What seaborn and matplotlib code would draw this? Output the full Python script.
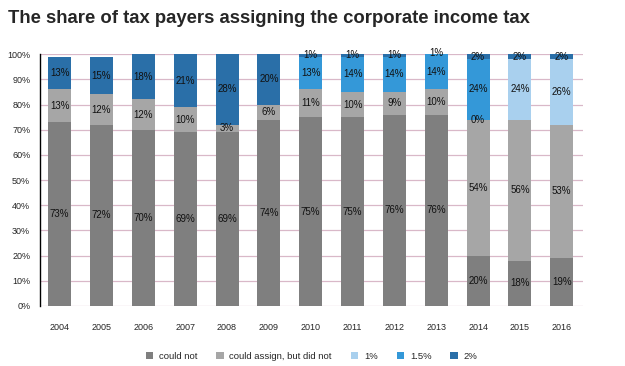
import numpy as np
import pandas as pd
import seaborn as sns
import matplotlib.pyplot as plt

sns.set_style('white')
plt.rcParams['font.family'] = ['Liberation Sans', 'DejaVu Sans']

years = ['2004', '2005', '2006', '2007', '2008', '2009', '2010',
         '2011', '2012', '2013', '2014', '2015', '2016']
could_not = [73, 72, 70, 69, 69, 74, 75, 75, 76, 76, 20, 18, 19]
could_assign = [13, 12, 12, 10, 3, 6, 11, 10, 9, 10, 54, 56, 53]
rate_1 = [None, None, None, None, None, None, None, None, None, None, 0, 24, 26]
rate_15 = [None, None, None, None, None, None, 13, 14, 14, 14, 24, None, None]
rate_2 = [13, 15, 18, 21, 28, 20, 1, 1, 1, 1, 2, 2, 2]

series = ['could not', 'could assign, but did not', '1%', '1.5%', '2%']
colors = ['#7f7f7f', '#a6a6a6', '#a9d0ee', '#3498d8', '#2a6fa8']

df = pd.DataFrame({'year': years, 'could not': could_not,
                   'could assign, but did not': could_assign,
                   '1%': rate_1, '1.5%': rate_15, '2%': rate_2})
vals = df[series].astype(float)
cum = vals.fillna(0).cumsum(axis=1)

fig = plt.figure(figsize=(6.25, 3.66), dpi=100)
ax = fig.add_axes([0.064, 0.164, 0.869, 0.688])

# draw cumulative bars from the top layer down so each covers the one before
for s, c in reversed(list(zip(series, colors))):
    sns.barplot(x=df['year'], y=cum[s], color=c, width=0.55, ax=ax,
                saturation=1, label=s, zorder=2, linewidth=0, edgecolor='none')

# segment labels
for i in range(len(years)):
    base = 0
    for s in series:
        v = vals[s].iloc[i]
        if np.isnan(v):
            continue
        ax.text(i, base + v / 2, f'{int(v)}%', ha='center', va='center',
                fontsize=7, color='#111111', zorder=3)
        base += v

ax.set_ylim(0, 100)
ax.set_xlim(-0.47, 12.51)
ax.set_yticks(range(0, 101, 10))
ax.set_yticklabels([f'{t}%' for t in range(0, 101, 10)], fontsize=6.5)
ax.tick_params(axis='x', labelsize=6.5, length=0, pad=12)
ax.tick_params(axis='y', length=3, width=0.8, direction='out', pad=4)
ax.set_xlabel('')
ax.set_ylabel('')
ax.yaxis.grid(True, color='#d9b8c8', linewidth=0.9, zorder=0)
ax.set_axisbelow(True)
for side in ['top', 'right', 'bottom']:
    ax.spines[side].set_visible(False)
ax.spines['left'].set_color('black')
ax.spines['left'].set_linewidth(1)

handles, labels = ax.get_legend_handles_labels()
order = [labels.index(s) for s in series]
ax.legend([handles[k] for k in order], [labels[k] for k in order],
          loc='center', bbox_to_anchor=(0.5, -0.2), ncol=5, frameon=False,
          fontsize=6.8, handlelength=0.8, handleheight=0.8, columnspacing=2.0,
          handletextpad=0.6)

fig.text(0.013, 0.95, 'The share of tax payers assigning the corporate income tax',
         fontsize=13.3, fontweight='bold', ha='left', va='center')

fig.savefig('out.png', dpi=100)
